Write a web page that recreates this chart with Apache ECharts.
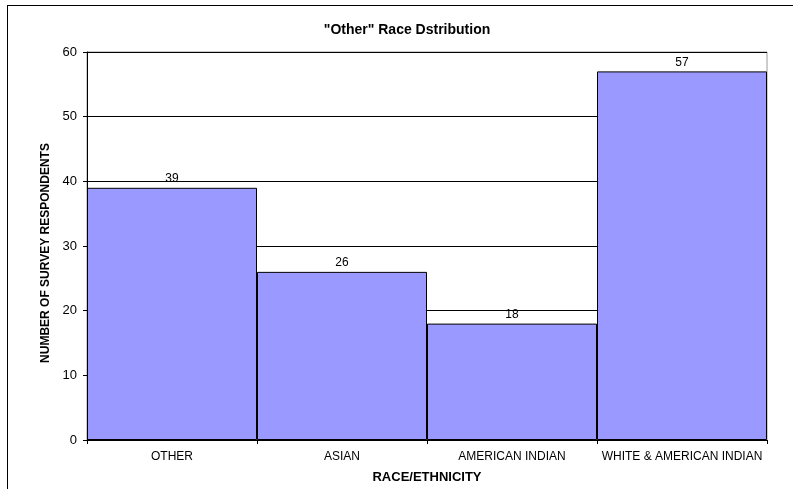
<!DOCTYPE html>
<html>
<head>
<meta charset="utf-8">
<script src="https://cdn.jsdelivr.net/npm/echarts@6/dist/echarts.min.js"></script>
<style>
html,body{margin:0;padding:0;background:#fff;}
#chart{width:793px;height:489px;}
</style>
</head>
<body>
<div id="chart"></div>
<script>
// Race/ethnicity categories and respondent counts
var categories = ['OTHER', 'ASIAN', 'AMERICAN INDIAN', 'WHITE & AMERICAN INDIAN'];
var respondents = [39, 26, 18, 57];

var chart = echarts.init(document.getElementById('chart'));
var font = 'Liberation Sans, Arial, sans-serif';

chart.setOption({
  animation: false,
  backgroundColor: '#ffffff',
  title: {
    text: '"Other" Race Dstribution',
    left: 402,
    textAlign: 'center',
    top: 18,
    textStyle: { fontFamily: font, fontSize: 14, fontWeight: 'bold', color: '#000' }
  },
  grid: { left: 87, right: 26, top: 52, bottom: 49, show: true, borderColor: '#999', borderWidth: 1, backgroundColor: 'transparent' },
  xAxis: {
    type: 'category',
    data: categories,
    name: 'RACE/ETHNICITY',
    nameLocation: 'middle',
    nameGap: 31,
    nameTextStyle: { fontFamily: font, fontSize: 13, fontWeight: 'bold', color: '#000' },
    axisLine: { lineStyle: { color: '#000', width: 1 } },
    axisTick: { show: true, length: 4, alignWithLabel: false, lineStyle: { color: '#000' } },
    axisLabel: { interval: 0, fontFamily: font, fontSize: 12, color: '#000', margin: 11 }
  },
  yAxis: {
    type: 'value',
    min: 0,
    max: 60,
    interval: 10,
    name: 'NUMBER OF SURVEY RESPONDENTS',
    nameLocation: 'middle',
    nameGap: 28,
    nameTextStyle: { fontFamily: font, fontSize: 12, fontWeight: 'bold', color: '#000', padding: [0, 14, 0, 0] },
    axisLine: { show: true, lineStyle: { color: '#000', width: 1 } },
    axisTick: { show: true, length: 4, lineStyle: { color: '#000' } },
    axisLabel: { fontFamily: font, fontSize: 13, color: '#000', margin: 10 },
    splitLine: { show: true, lineStyle: { color: '#000', width: 1 } }
  },
  series: [{
    type: 'bar',
    data: respondents,
    barCategoryGap: '0%',
    itemStyle: { color: '#9999FF', borderColor: '#000', borderWidth: 1 },
    label: { show: true, position: 'top', distance: 3, fontFamily: font, fontSize: 12, color: '#000' }
  }],
  graphic: [
    { type: 'line', shape: { x1: 7, y1: 5.5, x2: 793, y2: 5.5 }, style: { stroke: '#000', lineWidth: 1 } },
    { type: 'line', shape: { x1: 7.5, y1: 5, x2: 7.5, y2: 489 }, style: { stroke: '#000', lineWidth: 1 } }
  ]
});
</script>
</body>
</html>
